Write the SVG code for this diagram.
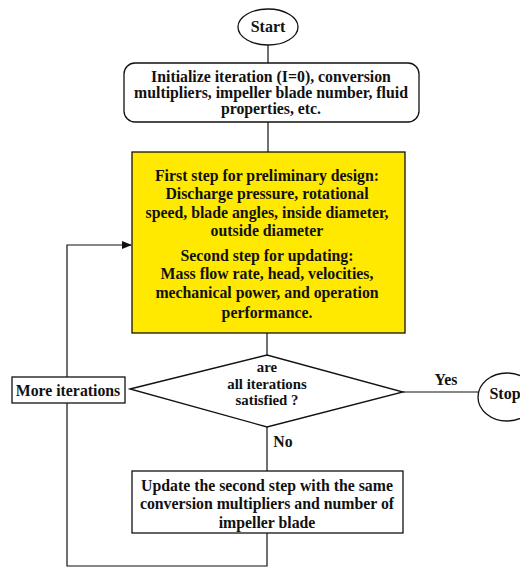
<svg xmlns="http://www.w3.org/2000/svg" width="520" height="567" viewBox="0 0 520 567">
<defs>
<style>
.n{fill:#fff;stroke:#111;stroke-width:1.3}
.y{fill:#ffe900;stroke:#111;stroke-width:1.3}
.c{fill:none;stroke:#111;stroke-width:1.2}
text{font-family:"Liberation Serif","Times New Roman",serif;font-weight:bold;fill:#111;text-anchor:middle}
.t14{font-size:15.8px}
.t15{font-size:16px}
.td{font-size:14.8px}
</style>
<marker id="ah" markerWidth="10" markerHeight="8" refX="9" refY="4" orient="auto" markerUnits="userSpaceOnUse">
<path d="M0,0 L10,4 L0,8 Z" fill="#111"/>
</marker>
</defs>
<rect width="520" height="567" fill="#fff"/>
<g id="connectors">
<line class="c" x1="268" y1="45" x2="268" y2="63"/>
<line class="c" x1="268" y1="122" x2="268" y2="152"/>
<line class="c" x1="267" y1="333" x2="267" y2="355"/>
<line class="c" x1="267" y1="427" x2="267" y2="471"/>
<polyline class="c" points="267,533 267,566 67,566 67,403"/>
<polyline class="c" points="67,377 67,245 131,245" marker-end="url(#ah)"/>
<line class="c" x1="403" y1="392" x2="478" y2="392"/>
<text class="t14" x="446" y="385">Yes</text>
<text class="t14" x="283" y="447">No</text>
</g>
<g id="start">
<ellipse class="n" cx="268" cy="27" rx="30" ry="18"/>
<text class="t15" x="268" y="32">Start</text>
</g>
<g id="init">
<rect class="n" x="124" y="63" width="295" height="59" rx="11"/>
<text class="t14" x="271" y="82">Initialize iteration (I=0), conversion</text>
<text class="t14" x="271" y="98">multipliers, impeller blade number, fluid</text>
<text class="t14" x="271" y="114">properties, etc.</text>
</g>
<g id="design">
<rect class="y" x="132" y="152" width="273" height="181"/>
<text class="t14" x="267" y="181">First step for preliminary design:</text>
<text class="t14" x="267" y="199">Discharge pressure, rotational</text>
<text class="t14" x="267" y="218">speed, blade angles, inside diameter,</text>
<text class="t14" x="267" y="236">outside diameter</text>
<text class="t14" x="267" y="261">Second step for updating:</text>
<text class="t14" x="267" y="279">Mass flow rate, head, velocities,</text>
<text class="t14" x="267" y="298">mechanical power, and operation</text>
<text class="t14" x="267" y="318">performance.</text>
</g>
<g id="decision">
<polygon class="n" points="130,389 267,355 403,392 267,427"/>
<text class="td" x="267" y="372">are</text>
<text class="td" x="267" y="388.5">all iterations</text>
<text class="td" x="267" y="405">satisfied ?</text>
</g>
<g id="more">
<rect class="n" x="12" y="377" width="113" height="26"/>
<text class="t14" x="68" y="396">More iterations</text>
</g>
<g id="stop">
<ellipse class="n" cx="507" cy="397" rx="29" ry="24"/>
<text class="t15" x="505" y="399">Stop</text>
</g>
<g id="update">
<rect class="n" x="132" y="471" width="271" height="62"/>
<text class="t14" x="267" y="491">Update the second step with the same</text>
<text class="t14" x="267" y="509">conversion multipliers and number of</text>
<text class="t14" x="267" y="528">impeller blade</text>
</g>
</svg>
